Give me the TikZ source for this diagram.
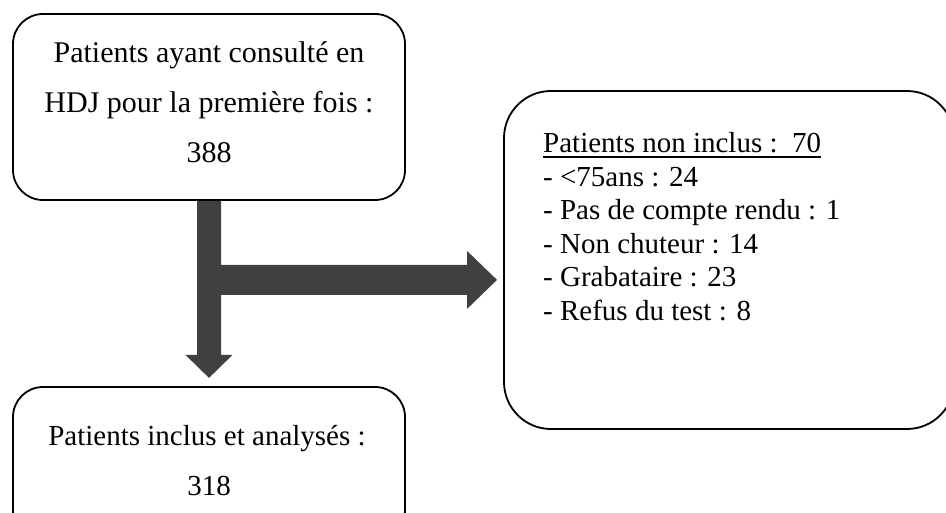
\documentclass[tikz,border=0pt]{standalone}
\usepackage{fontspec}
\setmainfont{Liberation Serif}
\usetikzlibrary{calc}
\definecolor{arrowgray}{RGB}{64,64,64}
\tikzset{
  box/.style={draw=black, line width=1.8pt, fill=white, inner sep=0pt},
  txt/.style={inner sep=0pt, anchor=base, font=\fontsize{29}{34}\selectfont},
  bigtxt/.style={txt, font=\fontsize{30}{34}\selectfont},
  ltxt/.style={inner sep=0pt, anchor=base west, font=\fontsize{29}{34}\selectfont},
  arrowfill/.style={fill=arrowgray}
}
\begin{document}
\begin{tikzpicture}[x=1pt,y=-1pt]
\useasboundingbox (0,0) rectangle (946,513);
\clip (0,0) rectangle (946,513);
% boxes
\node[box, rounded corners=30pt, minimum width=392pt, minimum height=186pt] (top) at (209,107) {};
\node[box, rounded corners=30pt, minimum width=392pt, minimum height=153pt] (incl) at (209,463.5) {};
\node[box, rounded corners=47pt, minimum width=450pt, minimum height=338pt] (excl) at (729,260) {};
% arrow
\fill[arrowfill] ($(top.south)+(-12,0)$) -- ++(24,0) -- ++(0,64) -- ++(246,0) -- ++(0,-14)
  -- ++(30,29) -- ++(-30,29) -- ++(0,-14) -- ++(-246,0) -- ++(0,60) -- ++(11.5,0)
  -- ++(-23.5,23) -- ++(-23.5,-23) -- ++(11.5,0) -- cycle;
% top box text
\node[bigtxt] (t1) at (209,63) {Patients ayant consulté en};
\node[bigtxt] (t2) at (209,113) {HDJ pour la première fois :};
\node[bigtxt] (t3) at (209,163) {388};
% bottom box text
\node[txt] (b1) at (207,445) {Patients inclus et analysés :};
\node[txt] (b2) at (209,495) {318};
% right box text
\node[ltxt] (e0) at (543,153) {Patients non inclus :\ \ 70};
\draw[line width=1.3pt] ($(e0.base west)+(0,4)$) -- ($(e0.base east)+(0,4)$);
\node[ltxt] (e1) at (543,186.5) {- <75ans : 24};
\node[ltxt] (e2) at (543,220) {- Pas de compte rendu : 1};
\node[ltxt] (e3) at (543,253.5) {- Non chuteur : 14};
\node[ltxt] (e4) at (543,287) {- Grabataire : 23};
\node[ltxt] (e5) at (543,320.5) {- Refus du test : 8};
\end{tikzpicture}
\end{document}
